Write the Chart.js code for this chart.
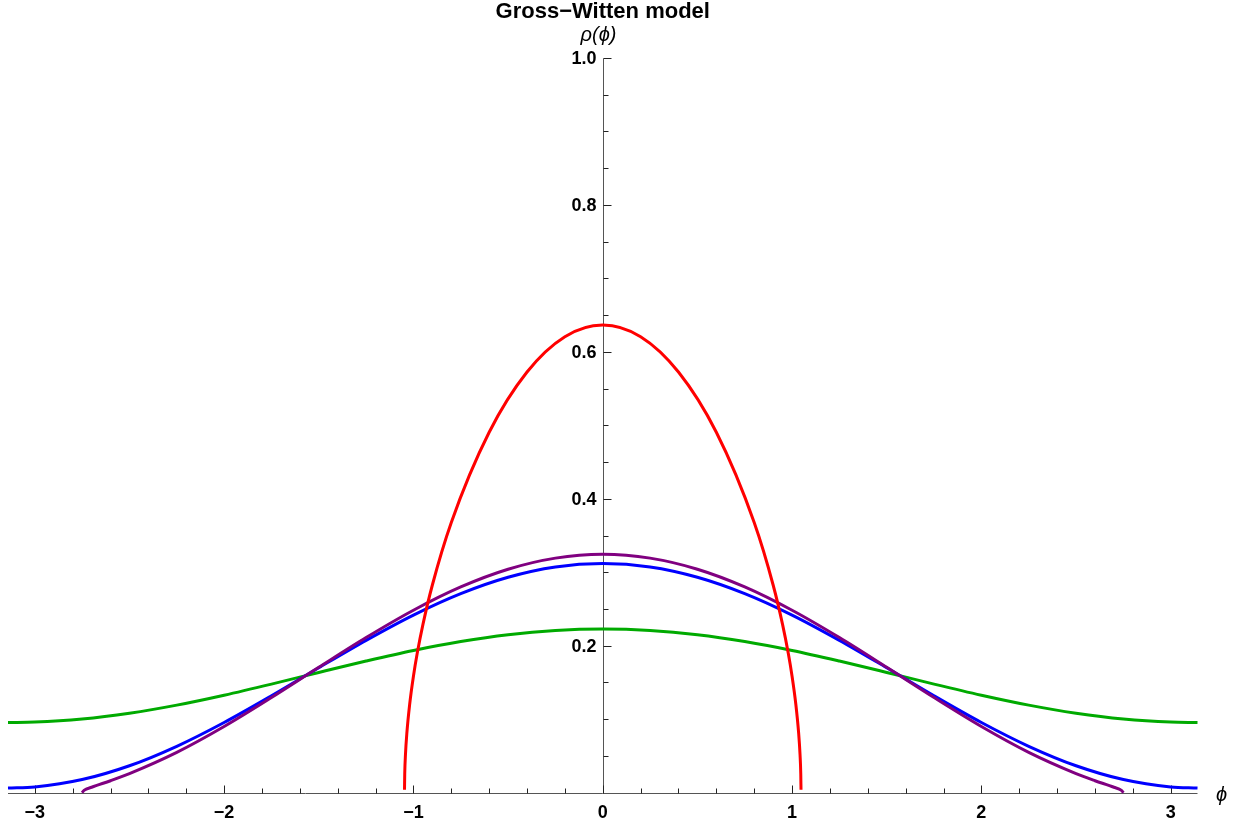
<!DOCTYPE html>
<html>
<head>
<meta charset="utf-8">
<title>Gross-Witten model</title>
<script src="https://cdn.jsdelivr.net/npm/chart.js@4.4.1/dist/chart.umd.min.js"></script>
<style>
  html, body { margin: 0; padding: 0; background: #fff; }
  #wrap { width: 1252px; height: 825px; position: relative; }
</style>
</head>
<body>
<div id="wrap"><canvas id="chart"></canvas></div>
<script>
// phi grid shared by the two ungapped curves (green, blue)
const phiGrid = [-3.1416, -3.0, -2.75, -2.5, -2.25, -2.0, -1.75, -1.5, -1.25, -1.0, -0.75, -0.5, -0.25,
  0, 0.25, 0.5, 0.75, 1.0, 1.25, 1.5, 1.75, 2.0, 2.25, 2.5, 2.75, 3.0, 3.1416];
const greenVals = [0.0955, 0.0961, 0.1003, 0.1082, 0.1192, 0.1327, 0.1478, 0.1637, 0.1792, 0.1936, 0.2057, 0.2150, 0.2208,
  0.2228, 0.2208, 0.2150, 0.2057, 0.1936, 0.1792, 0.1637, 0.1478, 0.1327, 0.1192, 0.1082, 0.1003, 0.0961, 0.0955];
const blueVals = [0.0064, 0.0079, 0.0179, 0.0367, 0.0632, 0.0956, 0.1319, 0.1700, 0.2073, 0.2417, 0.2709, 0.2932, 0.3072,
  0.3119, 0.3072, 0.2932, 0.2709, 0.2417, 0.2073, 0.1700, 0.1319, 0.0956, 0.0632, 0.0367, 0.0179, 0.0079, 0.0064];

// purple curve (gapped, support ends near +-2.75)
const purplePhi = [-2.7506, -2.74, -2.7, -2.6, -2.5, -2.25, -2.0, -1.75, -1.5, -1.25, -1.0, -0.75, -0.5, -0.25,
  0, 0.25, 0.5, 0.75, 1.0, 1.25, 1.5, 1.75, 2.0, 2.25, 2.5, 2.6, 2.7, 2.74, 2.7506];
const purpleVals = [0, 0.0031, 0.0074, 0.0163, 0.0260, 0.0549, 0.0901, 0.1295, 0.1707, 0.2112, 0.2484, 0.2801, 0.3042, 0.3193,
  0.3245, 0.3193, 0.3042, 0.2801, 0.2484, 0.2112, 0.1707, 0.1295, 0.0901, 0.0549, 0.0260, 0.0163, 0.0074, 0.0031, 0];

// red curve (strong gap, support ends near +-1.047)
const redPhi = [-1.0472, -1.046, -1.042, -1.035, -1.02, -1.0, -0.98, -0.95, -0.9, -0.8, -0.6, -0.4, -0.2,
  0, 0.2, 0.4, 0.6, 0.8, 0.9, 0.95, 0.98, 1.0, 1.02, 1.035, 1.042, 1.046, 1.0472];
const redVals = [0.004, 0.0251, 0.0523, 0.0803, 0.1201, 0.1586, 0.1897, 0.2288, 0.2827, 0.3678, 0.4906, 0.5726, 0.6207,
  0.6366, 0.6207, 0.5726, 0.4906, 0.3678, 0.2827, 0.2288, 0.1897, 0.1586, 0.1201, 0.0803, 0.0523, 0.0251, 0.004];

// ticks
const xTickValues = [-3, -2, -1, 0, 1, 2, 3];
const xTickLabels = ["\u22123", "\u22122", "\u22121", "0", "1", "2", "3"];
const yTickValues = [0.2, 0.4, 0.6, 0.8, 1.0];
const yTickLabels = ["0.2", "0.4", "0.6", "0.8", "1.0"];

const FONT = '"Liberation Sans", Arial, sans-serif';

function pts(xs, ys) {
  return xs.map((x, i) => ({ x: x, y: ys[i] }));
}

// Mathematica-style axes crossing at the origin, ticks pointing inward
const originAxes = {
  id: "originAxes",
  beforeDatasetsDraw(chart) {
    const { ctx, scales: { x, y } } = chart;
    const x0 = Math.round(x.getPixelForValue(0)) + 0.5;
    const y0 = Math.round(y.getPixelForValue(0)) + 0.5;
    const xl = x.getPixelForValue(x.min), xr = x.getPixelForValue(x.max);
    const yt = y.getPixelForValue(1.0);

    ctx.save();
    ctx.strokeStyle = "#555";
    ctx.lineWidth = 1;
    ctx.beginPath();
    ctx.moveTo(xl, y0); ctx.lineTo(xr, y0);
    ctx.moveTo(x0, y0); ctx.lineTo(x0, Math.round(yt) + 0.5);
    ctx.stroke();

    ctx.strokeStyle = "#222";
    ctx.beginPath();
    // x minor ticks every 0.2, major at integers
    for (let k = -15; k <= 15; k++) {
      const v = k / 5;
      const px = Math.round(x.getPixelForValue(v)) + 0.5;
      const len = k % 5 === 0 ? 8 : 5;
      ctx.moveTo(px, y0); ctx.lineTo(px, y0 - len);
    }
    // y minor ticks every 0.05, major every 0.2
    for (let k = 1; k <= 20; k++) {
      const v = k / 20;
      const py = Math.round(y.getPixelForValue(v)) + 0.5;
      const len = k % 4 === 0 ? 8 : 5;
      ctx.moveTo(x0, py); ctx.lineTo(x0 + len, py);
    }
    ctx.stroke();

    ctx.fillStyle = "#000";
    ctx.font = "bold 18px " + FONT;
    ctx.textAlign = "center";
    ctx.textBaseline = "middle";
    xTickValues.forEach((v, i) => {
      ctx.fillText(xTickLabels[i], x.getPixelForValue(v), y0 + 20);
    });
    ctx.textAlign = "right";
    yTickValues.forEach((v, i) => {
      ctx.fillText(yTickLabels[i], x0 - 7, y.getPixelForValue(v) + 1);
    });

    // axis labels
    ctx.font = "italic 20px " + FONT;
    ctx.textAlign = "center";
    ctx.fillText("\u03C1(\u03D5)", x0 - 5, yt - 23);
    ctx.fillText("\u03D5", xr + 24, y0 + 2);
    ctx.restore();
  }
};

const lineStyle = {
  borderWidth: 3,
  pointRadius: 0,
  fill: false,
  cubicInterpolationMode: "monotone",
  clip: false
};

new Chart(document.getElementById("chart"), {
  type: "line",
  data: {
    datasets: [
      Object.assign({ label: "red", data: pts(redPhi, redVals), borderColor: "#ff0000" }, lineStyle),
      Object.assign({ label: "purple", data: pts(purplePhi, purpleVals), borderColor: "#800080" }, lineStyle),
      Object.assign({ label: "blue", data: pts(phiGrid, blueVals), borderColor: "#0000ff" }, lineStyle),
      Object.assign({ label: "green", data: pts(phiGrid, greenVals), borderColor: "#00aa00" }, lineStyle)
    ]
  },
  options: {
    responsive: true,
    maintainAspectRatio: false,
    animation: false,
    layout: { padding: { left: 8, right: 54.5, top: 0, bottom: 32.3 } },
    scales: {
      x: { type: "linear", min: -Math.PI, max: Math.PI, display: false },
      y: { type: "linear", min: 0, max: 1, display: false }
    },
    plugins: {
      legend: { display: false },
      tooltip: { enabled: false },
      title: {
        display: true,
        text: "Gross\u2212Witten model",
        fullSize: false,
        color: "#000",
        font: { family: FONT, size: 22, weight: "bold", lineHeight: 1.1 },
        padding: { top: 0, bottom: 33.8 }
      }
    }
  },
  plugins: [originAxes]
});
</script>
</body>
</html>
